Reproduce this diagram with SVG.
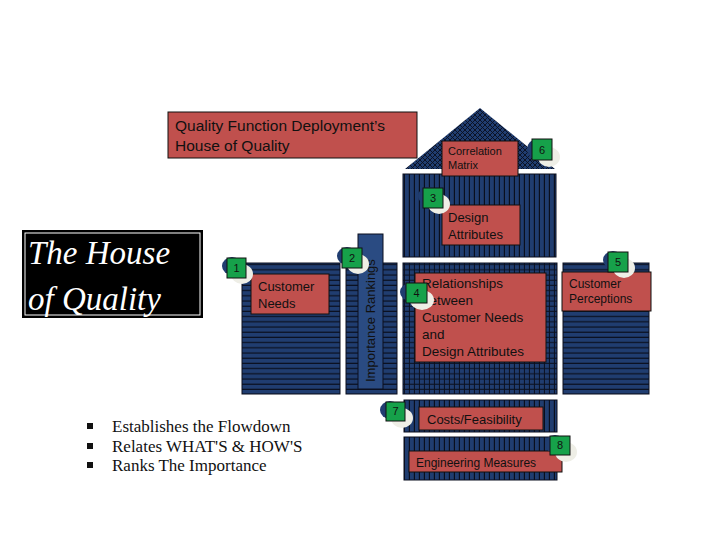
<svg xmlns="http://www.w3.org/2000/svg" width="720" height="540" viewBox="0 0 720 540">
<defs>
<pattern id="hs" width="10" height="5.2" patternUnits="userSpaceOnUse">
<rect width="10" height="5.2" fill="#203d70"/><line x1="0" y1="4.6" x2="10" y2="4.6" stroke="#0a0f1e" stroke-width="1.2"/>
</pattern>
<pattern id="vs" width="5" height="10" patternUnits="userSpaceOnUse">
<rect width="5" height="10" fill="#203d70"/><line x1="4.4" y1="0" x2="4.4" y2="10" stroke="#0a0f1e" stroke-width="1.2"/>
</pattern>
<pattern id="gr" width="5" height="5.2" patternUnits="userSpaceOnUse">
<rect width="5" height="5.2" fill="#203d70"/><line x1="0" y1="4.6" x2="5" y2="4.6" stroke="#0a0f1e" stroke-width="1"/><line x1="4.4" y1="0" x2="4.4" y2="5.2" stroke="#0a0f1e" stroke-width="1"/>
</pattern>
<pattern id="xh" width="5" height="5" patternUnits="userSpaceOnUse">
<rect width="5" height="5" fill="#203d70"/><path d="M0,0L5,5M5,0L0,5" stroke="#0a0f1e" stroke-width="0.9"/>
</pattern>
</defs>
<style>
.lbl{fill:#c0504d;stroke:#111;stroke-width:1}
.t{font-family:"Liberation Sans",Arial,sans-serif;fill:#111}
.g{fill:#16a14a;stroke:#111;stroke-width:1}
.sh{fill:#203d70}
.wh{fill:#eeeee6}
.n{font-family:"Liberation Sans",Arial,sans-serif;font-size:11px;fill:#111;text-anchor:middle}
.blk{stroke:#0a0f1e;stroke-width:1}
.b{font-family:"Liberation Serif","Times New Roman",serif;font-size:17px;fill:#111}
.q{font-family:"Liberation Serif","Times New Roman",serif;font-style:italic;font-size:33px;fill:#fff}
</style>
<rect width="720" height="540" fill="#fff"/>

<g id="roof">
<polygon points="480,108 405,169 555,169" fill="url(#xh)"/>
</g>
<g id="title">
<rect x="168" y="112" width="249" height="46" class="lbl"/>
<text class="t" font-size="15.5" x="175" y="131">Quality Function Deployment’s</text>
<text class="t" font-size="15.5" x="175" y="151">House of Quality</text>
</g>
<g id="design">
<rect x="403" y="174" width="153" height="83" fill="url(#vs)" class="blk"/>
<rect x="442" y="205" width="78" height="40" class="lbl"/>
<text class="t" font-size="13" x="448" y="222">Design</text>
<text class="t" font-size="13" x="448" y="239">Attributes</text>
</g>
<g id="correlation">
<rect x="442" y="141" width="76" height="35" class="lbl"/>
<text class="t" font-size="11" x="448" y="155">Correlation</text>
<text class="t" font-size="11" x="448" y="169">Matrix</text>
</g>
<g id="needs">
<rect x="242" y="263" width="98" height="131" fill="url(#hs)" class="blk"/>
<rect x="251" y="274" width="78" height="40" class="lbl"/>
<text class="t" font-size="13" x="258" y="291">Customer</text>
<text class="t" font-size="13" x="258" y="308">Needs</text>
</g>
<g id="importance">
<rect x="346" y="263" width="51" height="131" fill="url(#hs)" class="blk"/>
<rect x="358" y="234" width="25" height="155" fill="#2a4b82" stroke="#0a0f1e" stroke-width="1"/>
<text class="t" font-size="13" fill="#0a1530" transform="translate(375,382) rotate(-90)">Importance Rankings</text>
</g>
<g id="relationships">
<rect x="403" y="263" width="154" height="131" fill="url(#gr)" class="blk"/>
<rect x="415" y="273" width="131" height="89" class="lbl"/>
<text class="t" font-size="13.5" x="422" y="288">Relationships</text>
<text class="t" font-size="13.5" x="422" y="305">between</text>
<text class="t" font-size="13.5" x="422" y="322">Customer Needs</text>
<text class="t" font-size="13.5" x="422" y="339">and</text>
<text class="t" font-size="13.5" x="422" y="356">Design Attributes</text>
</g>
<g id="perceptions">
<rect x="563" y="263" width="86" height="131" fill="url(#hs)" class="blk"/>
<rect x="562" y="272" width="89" height="39" class="lbl"/>
<text class="t" font-size="12" x="569" y="288">Customer</text>
<text class="t" font-size="12" x="569" y="303">Perceptions</text>
</g>
<g id="costs">
<rect x="404" y="400" width="153" height="32" fill="url(#vs)" class="blk"/>
<rect x="419" y="407" width="124" height="23" class="lbl"/>
<text class="t" font-size="13" x="427" y="424">Costs/Feasibility</text>
</g>
<g id="engineering">
<rect x="404" y="437" width="153" height="43" fill="url(#vs)" class="blk"/>
<rect x="409" y="451" width="153" height="21" class="lbl"/>
<text class="t" font-size="12" x="416" y="467">Engineering Measures</text>
</g>

<g id="badge1"><ellipse class="wh" cx="242" cy="274" rx="11" ry="10"/><ellipse class="sh" cx="232" cy="266" rx="10" ry="9"/><rect class="g" x="227" y="258" width="19" height="20"/><text class="n" x="236.5" y="272">1</text></g>
<g id="badge2"><ellipse class="wh" cx="358" cy="264" rx="11" ry="10"/><ellipse class="sh" cx="347" cy="256" rx="10" ry="9"/><rect class="g" x="342" y="248" width="20" height="20"/><text class="n" x="352" y="262">2</text></g>
<g id="badge3"><ellipse class="wh" cx="439" cy="204" rx="11" ry="10"/><ellipse class="sh" cx="428" cy="196" rx="10" ry="9"/><rect class="g" x="423" y="188" width="20" height="20"/><text class="n" x="433" y="202">3</text></g>
<g id="badge4"><ellipse class="wh" cx="422" cy="300" rx="12" ry="10"/><ellipse class="sh" cx="410" cy="292" rx="10" ry="9"/><rect class="g" x="406" y="283" width="21" height="20"/><text class="n" x="416.5" y="297">4</text></g>
<g id="badge5"><ellipse class="wh" cx="624" cy="268" rx="11" ry="10"/><ellipse class="sh" cx="613" cy="260" rx="10" ry="9"/><rect class="g" x="608" y="252" width="20" height="20"/><text class="n" x="618" y="266">5</text></g>
<g id="badge6"><ellipse class="wh" cx="549" cy="157" rx="11" ry="10"/><ellipse class="sh" cx="537" cy="149" rx="10" ry="10"/><rect class="g" x="532" y="139" width="20" height="21"/><text class="n" x="542" y="154">6</text></g>
<g id="badge7"><ellipse class="wh" cx="402" cy="418" rx="11" ry="10"/><ellipse class="sh" cx="390" cy="410" rx="10" ry="9"/><rect class="g" x="386" y="402" width="19" height="19"/><text class="n" x="395.5" y="415">7</text></g>
<g id="badge8"><ellipse class="wh" cx="566" cy="452" rx="11" ry="10"/><ellipse class="sh" cx="555" cy="444" rx="10" ry="9"/><rect class="g" x="550" y="436" width="20" height="19"/><text class="n" x="560" y="449">8</text></g>

<g id="houseTitle">
<rect x="22" y="230" width="181" height="88" fill="#000"/>
<rect x="25" y="233" width="175" height="82" fill="none" stroke="#fff" stroke-width="1"/>
<text class="q" x="28" y="264">The House</text>
<text class="q" x="28" y="310">of Quality</text>
</g>
<g id="bullets">
<rect x="87" y="423" width="6" height="6" fill="#111"/>
<rect x="87" y="443" width="6" height="6" fill="#111"/>
<rect x="87" y="462" width="6" height="6" fill="#111"/>
<text class="b" x="112" y="432">Establishes the Flowdown</text>
<text class="b" x="112" y="452">Relates WHAT'S &amp; HOW'S</text>
<text class="b" x="112" y="471">Ranks The Importance</text>
</g>
</svg>
